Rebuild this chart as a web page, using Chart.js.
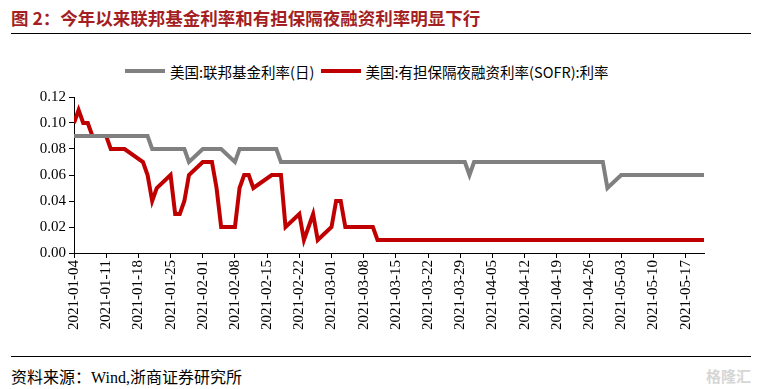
<!DOCTYPE html>
<html lang="zh">
<head>
<meta charset="UTF-8">
<title>联邦基金利率与SOFR</title>
<script src="https://cdn.jsdelivr.net/npm/chart.js"></script>
<style>
    body { margin: 0; background: #fff; }
    .page { position: relative; width: 760px; height: 389px; overflow: hidden; }
    .title { position: absolute; left: 11px; top: 5px; font: bold 17.5px "Noto Sans CJK SC", sans-serif; color: #a31f24; white-space: nowrap; }
    .rule { position: absolute; left: 11px; width: 740px; height: 0; border-top: 1.5px solid #000; }
    .legend { position: absolute; top: 58px; left: 125px; font: 14.5px "Noto Sans CJK SC", sans-serif; color: #000; white-space: nowrap; }
    .legend span { display: inline-block; vertical-align: middle; }
    .swatch { width: 40px; height: 4px; margin-right: 5px; }
    .source { position: absolute; left: 11px; top: 364px; font: 16px "Liberation Serif", "Noto Sans CJK SC", serif; color: #000; white-space: nowrap; }
    .mark { position: absolute; left: 706px; top: 365px; font: bold 15px "Noto Sans CJK SC", sans-serif; color: #d6d6d6; }
    #chartBox { position: absolute; left: 0; top: 80px; width: 760px; height: 265px; }
</style>
</head>
<body>
<div class="page">
    <div class="title">图 2：今年以来联邦基金利率和有担保隔夜融资利率明显下行</div>
    <div class="rule" style="top:33px"></div>
    <div class="legend">
        <span class="swatch" style="background:#808080"></span><span>美国:联邦基金利率(日)</span>
        <span class="swatch" style="background:#c00000;margin-left:3px"></span><span>美国:有担保隔夜融资利率(SOFR):利率</span>
    </div>
    <div id="chartBox"><canvas id="rateChart"></canvas></div>
    <div class="rule" style="top:356px"></div>
    <div class="source">资料来源：Wind,浙商证券研究所</div>
    <div class="mark">格隆汇</div>
</div>

<script>
    // 交易日（剔除1月18日、2月15日美国假日）
    const dates = [
        "2021-01-04","2021-01-05","2021-01-06","2021-01-07","2021-01-08",
        "2021-01-11","2021-01-12","2021-01-13","2021-01-14","2021-01-15",
        "2021-01-19","2021-01-20","2021-01-21","2021-01-22",
        "2021-01-25","2021-01-26","2021-01-27","2021-01-28","2021-01-29",
        "2021-02-01","2021-02-02","2021-02-03","2021-02-04","2021-02-05",
        "2021-02-08","2021-02-09","2021-02-10","2021-02-11","2021-02-12",
        "2021-02-16","2021-02-17","2021-02-18","2021-02-19",
        "2021-02-22","2021-02-23","2021-02-24","2021-02-25","2021-02-26",
        "2021-03-01","2021-03-02","2021-03-03","2021-03-04","2021-03-05",
        "2021-03-08","2021-03-09","2021-03-10","2021-03-11","2021-03-12",
        "2021-03-15","2021-03-16","2021-03-17","2021-03-18","2021-03-19",
        "2021-03-22","2021-03-23","2021-03-24","2021-03-25","2021-03-26",
        "2021-03-29","2021-03-30","2021-03-31","2021-04-01","2021-04-02",
        "2021-04-05","2021-04-06","2021-04-07","2021-04-08","2021-04-09",
        "2021-04-12","2021-04-13","2021-04-14","2021-04-15","2021-04-16",
        "2021-04-19","2021-04-20","2021-04-21","2021-04-22","2021-04-23",
        "2021-04-26","2021-04-27","2021-04-28","2021-04-29","2021-04-30",
        "2021-05-03","2021-05-04","2021-05-05","2021-05-06","2021-05-07",
        "2021-05-10","2021-05-11","2021-05-12","2021-05-13","2021-05-14",
        "2021-05-17","2021-05-18","2021-05-19","2021-05-20","2021-05-21"
    ];

    const fedFunds = [
        0.09,0.09,0.09,0.09,0.09,
        0.09,0.09,0.09,0.09,0.09,
        0.09,0.09,0.08,0.08,
        0.08,0.08,0.08,0.08,0.07,
        0.08,0.08,0.08,0.08,0.08,
        0.07,0.08,0.08,0.08,0.08,
        0.08,0.08,0.07,0.07,
        0.07,0.07,0.07,0.07,0.07,
        0.07,0.07,0.07,0.07,0.07,
        0.07,0.07,0.07,0.07,0.07,
        0.07,0.07,0.07,0.07,0.07,
        0.07,0.07,0.07,0.07,0.07,
        0.07,0.07,0.06,0.07,0.07,
        0.07,0.07,0.07,0.07,0.07,
        0.07,0.07,0.07,0.07,0.07,
        0.07,0.07,0.07,0.07,0.07,
        0.07,0.07,0.07,0.07,0.05,
        0.06,0.06,0.06,0.06,0.06,
        0.06,0.06,0.06,0.06,0.06,
        0.06,0.06,0.06,0.06,0.06
    ];

    const sofr = [
        0.10,0.11,0.10,0.10,0.09,
        0.09,0.08,0.08,0.08,0.08,
        0.07,0.06,0.04,0.05,
        0.06,0.03,0.03,0.04,0.06,
        0.07,0.07,0.07,0.05,0.02,
        0.02,0.05,0.06,0.06,0.05,
        0.06,0.06,0.06,0.02,
        0.03,0.01,0.02,0.03,0.01,
        0.02,0.04,0.04,0.02,0.02,
        0.02,0.02,0.02,0.01,0.01,
        0.01,0.01,0.01,0.01,0.01,
        0.01,0.01,0.01,0.01,0.01,
        0.01,0.01,0.01,0.01,0.01,
        0.01,0.01,0.01,0.01,0.01,
        0.01,0.01,0.01,0.01,0.01,
        0.01,0.01,0.01,0.01,0.01,
        0.01,0.01,0.01,0.01,0.01,
        0.01,0.01,0.01,0.01,0.01,
        0.01,0.01,0.01,0.01,0.01,
        0.01,0.01,0.01,0.01,0.01
    ];

    const yTicks = [0, 0.02, 0.04, 0.06, 0.08, 0.10, 0.12];

    // 日期 -> 距首日天数，x轴按自然日刻度
    const DAY = 86400000;
    const t0 = Date.parse(dates[0] + "T00:00:00Z");
    const dayOf = d => Math.round((Date.parse(d + "T00:00:00Z") - t0) / DAY);
    const labelOf = n => new Date(t0 + n * DAY).toISOString().split("T")[0];

    const toPoints = vals => dates.map((d, i) => ({ x: dayOf(d), y: vals[i] }));

    const tickFont = { family: "'Liberation Serif', 'Times New Roman', serif", size: 15 };

    new Chart(document.getElementById("rateChart"), {
        type: 'line',
        data: {
            datasets: [
                {
                    label: "美国:联邦基金利率(日)",
                    data: toPoints(fedFunds),
                    borderColor: '#808080',
                    backgroundColor: '#808080',
                    borderWidth: 4,
                    pointRadius: 0,
                    tension: 0
                },
                {
                    label: "美国:有担保隔夜融资利率(SOFR):利率",
                    data: toPoints(sofr),
                    borderColor: '#c00000',
                    backgroundColor: '#c00000',
                    borderWidth: 4,
                    pointRadius: 0,
                    tension: 0
                }
            ]
        },
        options: {
            responsive: true,
            maintainAspectRatio: false,
            animation: false,
            layout: { padding: { top: 17, right: 56, left: 0, bottom: 0 } },
            plugins: { legend: { display: false }, tooltip: { enabled: false } },
            scales: {
                x: {
                    type: 'linear',
                    min: 0,
                    max: dayOf(dates[dates.length - 1]),
                    afterFit: s => { s.height = 92; },
                    grid: { drawOnChartArea: false, drawTicks: true, tickLength: 5, color: '#000' },
                    border: { color: '#000', width: 1 },
                    ticks: {
                        stepSize: 7,
                        maxTicksLimit: 30,
                        includeBounds: false,
                        autoSkip: false,
                        minRotation: 90,
                        maxRotation: 90,
                        padding: 2,
                        color: '#000',
                        font: tickFont,
                        callback: v => labelOf(v)
                    }
                },
                y: {
                    min: yTicks[0],
                    max: yTicks[yTicks.length - 1],
                    afterFit: s => { s.width = 74; },
                    afterBuildTicks: s => { s.ticks = yTicks.map(v => ({ value: v })); },
                    grid: { drawOnChartArea: false, drawTicks: true, tickLength: 5, color: '#000' },
                    border: { color: '#000', width: 1 },
                    ticks: {
                        padding: 3,
                        color: '#000',
                        font: tickFont,
                        callback: v => v.toFixed(2)
                    }
                }
            }
        }
    });
</script>
</body>
</html>
